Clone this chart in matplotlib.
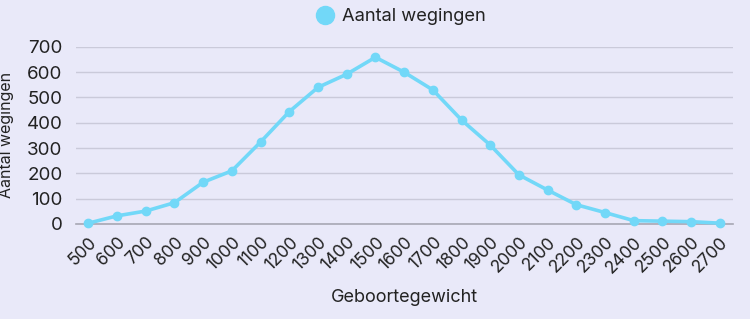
import matplotlib
matplotlib.use("Agg")
import matplotlib.pyplot as plt
from matplotlib.lines import Line2D

categories = ["500", "600", "700", "800", "900", "1000", "1100", "1200", "1300", "1400",
              "1500", "1600", "1700", "1800", "1900", "2000", "2100", "2200", "2300",
              "2400", "2500", "2600", "2700"]
values = [3, 32, 51, 84, 165, 210, 324, 444, 540, 592, 659, 600, 530, 411, 312, 194,
          134, 76, 45, 13, 11, 9, 3]
yticks = [0, 100, 200, 300, 400, 500, 600, 700]
series_name = "Aantal wegingen"

plt.rcParams['font.family'] = ['Inter', 'DejaVu Sans']
bg = "#E9E9F9"
line_c = "#72D8F8"
txt = "#222222"

fig = plt.figure(figsize=(7.5, 3.19), dpi=100, facecolor=bg)
ax = fig.add_axes([0.101, 0.298, 0.876, 0.555], facecolor=bg)

x = list(range(len(categories)))
ax.plot(x, values, color=line_c, lw=2.6, marker="o", ms=6, mfc=line_c, mec=line_c, zorder=3,
        clip_on=False)

ax.set_ylim(0, 700)
ax.set_xlim(-0.44, len(categories) - 1 + 0.45)
ax.set_yticks(yticks)
ax.set_yticklabels([str(v) for v in yticks], fontsize=13.5, color=txt)
ax.set_xticks(x)
ax.set_xticklabels(categories, rotation=45, ha="right", rotation_mode="anchor",
                   fontsize=12.5, color=txt)
ax.tick_params(axis="y", length=0, pad=9.5)
ax.tick_params(axis="x", length=0, pad=7)
ax.grid(axis="y", color="#CACADA", lw=1)
ax.set_axisbelow(True)
for s in ["top", "right", "left"]:
    ax.spines[s].set_visible(False)
ax.spines["bottom"].set_color("#A8A8B4")
ax.spines["bottom"].set_linewidth(1.2)

ax.set_ylabel("Aantal wegingen", fontsize=11.5, color=txt)
ax.yaxis.set_label_coords(-0.094, 0.5)
ax.set_xlabel("Geboortegewicht", fontsize=13, color=txt)
ax.xaxis.set_label_coords(0.5, -0.367)

handle = Line2D([], [], ls="none", marker="o", ms=13, mfc=line_c, mec=line_c)
fig.legend([handle], [series_name], loc="center", bbox_to_anchor=(0.533, 0.947),
           frameon=False, fontsize=13.2, handletextpad=0.3, labelcolor=txt,
           handlelength=1.2)

fig.savefig("out.png", dpi=100, facecolor=bg)
